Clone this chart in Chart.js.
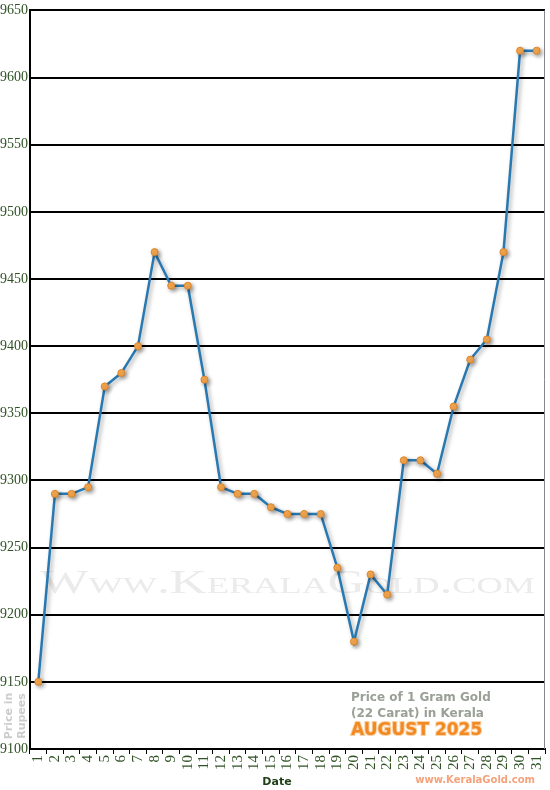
<!DOCTYPE html>
<html>
<head>
<meta charset="utf-8">
<script src="https://cdn.jsdelivr.net/npm/chart.js@4.4.1/dist/chart.umd.min.js"></script>
<style>
  body { margin: 0; background: #fff; }
  #wrap { width: 550px; height: 790px; position: relative; }
</style>
</head>
<body>
<div id="wrap"><canvas id="goldChart"></canvas></div>
<script>
const dates = ['1', '2', '3', '4', '5', '6', '7', '8', '9', '10', '11', '12', '13', '14', '15', '16',
  '17', '18', '19', '20', '21', '22', '23', '24', '25', '26', '27', '28', '29', '30', '31'];
const prices = [9150, 9290, 9290, 9295, 9370, 9380, 9400, 9470, 9445, 9445, 9375, 9295, 9290, 9290,
  9280, 9275, 9275, 9275, 9235, 9180, 9230, 9215, 9315, 9315, 9305, 9355, 9390, 9405, 9470, 9620, 9620];
const yMin = 9100;
const yMax = 9650;
const yStep = 50;

const tickColor = '#2f5224';

// watermark, captions and right border
const decor = {
  id: 'decor',
  beforeDatasetsDraw(chart) {
    const { ctx } = chart;
    ctx.save();
    ctx.font = '34px "Liberation Serif", serif';
    ctx.fontVariantCaps = 'small-caps';
    ctx.fillStyle = '#ebebeb';
    ctx.textBaseline = 'alphabetic';
    const text = 'Www.KeralaGold.com';
    const w = ctx.measureText(text).width;
    ctx.translate(40, 593);
    ctx.scale(495 / w, 1);
    ctx.fillText(text, 0, 0);
    ctx.restore();
  },
  beforeDatasetDraw(chart) {
    const ctx = chart.ctx;
    ctx.save();
    ctx.shadowColor = 'rgba(0,0,0,0.35)';
    ctx.shadowBlur = 4;
    ctx.shadowOffsetX = 2;
    ctx.shadowOffsetY = 2;
  },
  afterDatasetDraw(chart) {
    chart.ctx.restore();
  },
  afterDraw(chart) {
    const { ctx, chartArea } = chart;
    ctx.save();
    // right border
    ctx.strokeStyle = '#888';
    ctx.lineWidth = 1;
    ctx.beginPath();
    ctx.moveTo(chartArea.right - 0.5, chartArea.top);
    ctx.lineTo(chartArea.right - 0.5, chartArea.bottom);
    ctx.stroke();

    // caption box
    ctx.textAlign = 'left';
    ctx.textBaseline = 'middle';
    ctx.font = 'bold 12px "DejaVu Sans", sans-serif';
    ctx.fillStyle = '#9aa096';
    ctx.fillText('Price of 1 Gram Gold', 351, 698);
    ctx.fillText('(22 Carat) in Kerala', 351, 714);
    ctx.font = 'bold 17px "DejaVu Sans", sans-serif';
    ctx.lineWidth = 2;
    ctx.strokeStyle = '#fbd2a4';
    ctx.strokeText('AUGUST 2025', 351, 731);
    ctx.fillStyle = '#f18a25';
    ctx.fillText('AUGUST 2025', 351, 731);

    // site name
    ctx.font = 'bold 10px "DejaVu Sans", sans-serif';
    ctx.fillStyle = '#f4a27c';
    ctx.textAlign = 'right';
    ctx.fillText('www.KeralaGold.com', 535, 780);

    // x title
    ctx.font = 'bold 11px "DejaVu Sans", sans-serif';
    ctx.fillStyle = '#1f3d17';
    ctx.textAlign = 'center';
    ctx.fillText('Date', 277, 782);

    // y title
    ctx.translate(15, 716);
    ctx.rotate(-Math.PI / 2);
    ctx.font = 'bold 11px "DejaVu Sans", sans-serif';
    ctx.fillStyle = '#cccccc';
    ctx.fillText('Price in', 0, -6);
    ctx.fillText('Rupees', 0, 7);
    ctx.restore();
  }
};

new Chart(document.getElementById('goldChart'), {
  type: 'line',
  data: {
    labels: dates,
    datasets: [{
      data: prices,
      borderColor: '#2879b2',
      borderWidth: 2.5,
      tension: 0,
      pointRadius: 3.5,
      pointBackgroundColor: '#f9aa50',
      pointBorderColor: '#dc8428',
      pointBorderWidth: 1,
      fill: false
    }]
  },
  options: {
    responsive: true,
    maintainAspectRatio: false,
    animation: false,
    layout: { padding: { top: 6, right: 1, left: 0, bottom: 0 } },
    plugins: {
      legend: { display: false },
      tooltip: { enabled: false }
    },
    scales: {
      x: {
        offset: true,
        afterFit: scale => {
          scale.height = 41;
          scale.paddingLeft = 0;
          scale.paddingRight = 0;
        },
        grid: {
          drawOnChartArea: false,
          drawTicks: true,
          tickLength: 5,
          color: '#000',
          lineWidth: 1,
          offset: true
        },
        border: { color: '#000', width: 2 },
        ticks: {
          autoSkip: false,
          minRotation: 90,
          maxRotation: 90,
          padding: 1,
          color: tickColor,
          font: { family: '"Liberation Serif", serif', size: 15 }
        }
      },
      y: {
        min: yMin,
        max: yMax,
        afterFit: scale => { scale.width = 30; },
        grid: {
          color: '#000',
          lineWidth: 2,
          drawTicks: false
        },
        border: { color: '#000', width: 2 },
        ticks: {
          stepSize: yStep,
          padding: 2,
          color: tickColor,
          font: { family: '"Liberation Serif", serif', size: 14 },
          callback: v => String(v)
        }
      }
    }
  },
  plugins: [decor]
});
</script>
</body>
</html>
